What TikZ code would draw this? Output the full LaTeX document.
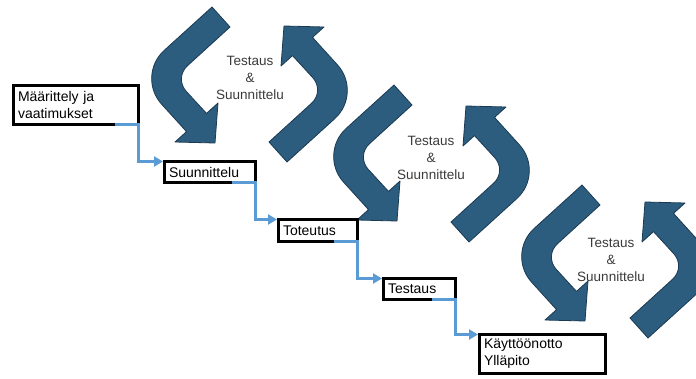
\documentclass[tikz,border=0pt]{standalone}
\usepackage{fontspec}
\setmainfont{Liberation Sans}
\usetikzlibrary{arrows.meta, calc}

\definecolor{bentfill}{HTML}{2C5D7F}
\definecolor{bentline}{HTML}{1B3A52}
\definecolor{flowblue}{HTML}{5B9BD5}
\definecolor{labelgray}{HTML}{3A3A3A}

\tikzset{
    box/.style={draw=black, line width=3pt, outer sep=0pt, anchor=north west,
                inner xsep=4.5pt, inner ysep=0pt, align=left,
                font=\fontsize{14}{17}\selectfont},
    flow/.style={draw=flowblue, line width=3pt,
                 -{Triangle[length=9pt, width=10pt]}, shorten >=1.5pt},
    bentshape/.style={fill=bentfill, draw=bentline, line width=0.8pt, line join=round},
    phase/.style={font=\fontsize{13.5}{17}\selectfont, text=labelgray, align=center},
}

% bent block arrow: #1,#2 = centre of its pair, #3 = rotation
\newcommand{\bentarrow}[3]{%
    \begin{scope}[shift={(#1,#2)}, rotate=#3]
        \coordinate (tl) at (-37,-78);
        \coordinate (oc) at (-113,-9);
        \coordinate (bo) at (-62.5,46.6);
        \coordinate (ic) at (-75,-7);
        \coordinate (bi) at (-42.5,28.4);
        \coordinate (tr) at (-19,-58);
        \filldraw[bentshape] (tl) -- ($(oc)!38pt!(tl)$)
            .. controls ($(oc)!17pt!(tl)$) and ($(oc)!17pt!(bo)$) .. ($(oc)!38pt!(bo)$)
            -- (bo) -- (-74,57) -- (-34,58) -- (-31,18) -- (bi)
            -- ($(ic)!18pt!(bi)$)
            .. controls ($(ic)!8pt!(bi)$) and ($(ic)!8pt!(tr)$) .. ($(ic)!18pt!(tr)$)
            -- (tr) -- cycle;
    \end{scope}}

\begin{document}
\begin{tikzpicture}[x=1pt, y=-1pt]

\useasboundingbox (0,0) rectangle (696,378);
\clip (0,0) rectangle (696,378);

% ---------------------------------------------------------------- loops
\foreach \lx/\ly/\rx/\ry/\tx/\ty [count=\i] in
    {249/85/250/84/250/78, 431/163/432/164/431/158, 619/263/611/260/611/260} {
    \bentarrow{\lx}{\ly}{0}
    \bentarrow{\rx}{\ry}{180}
    \node[phase] (lbl\i) at (\tx,\ty) {Testaus\\\&\\Suunnittelu};
}

% ---------------------------------------------------------------- phases
\node[box, minimum width=125pt, minimum height=39pt, text width=116pt]
    (req) at (13.5,85.5) {Määrittely ja\\vaatimukset};
\node[box, minimum width=91pt, minimum height=21pt, text width=82pt]
    (design) at (164.5,161.5) {Suunnittelu};
\node[box, minimum width=79pt, minimum height=22pt, text width=70pt]
    (impl) at (278.5,219.5) {Toteutus};
\node[box, minimum width=72pt, minimum height=21pt, text width=63pt]
    (test) at (383.5,278.5) {Testaus};
\node[box, minimum width=126pt, minimum height=39pt, text width=117pt]
    (deploy) at (479.5,334.5) {Käyttöönotto\\Ylläpito};

% ---------------------------------------------------------------- steps
\draw[flow] ([xshift=-24pt]req.south east) -- (req.south east) |- (design.north west);
\draw[flow] ([xshift=-24pt]design.south east) -- (design.south east) |- (impl.north west);
\draw[flow] ([xshift=-24pt]impl.south east) -- (impl.south east) |- (test.north west);
\draw[flow] ([xshift=-24pt]test.south east) -- (test.south east) |- (deploy.north west);

\end{tikzpicture}
\end{document}
